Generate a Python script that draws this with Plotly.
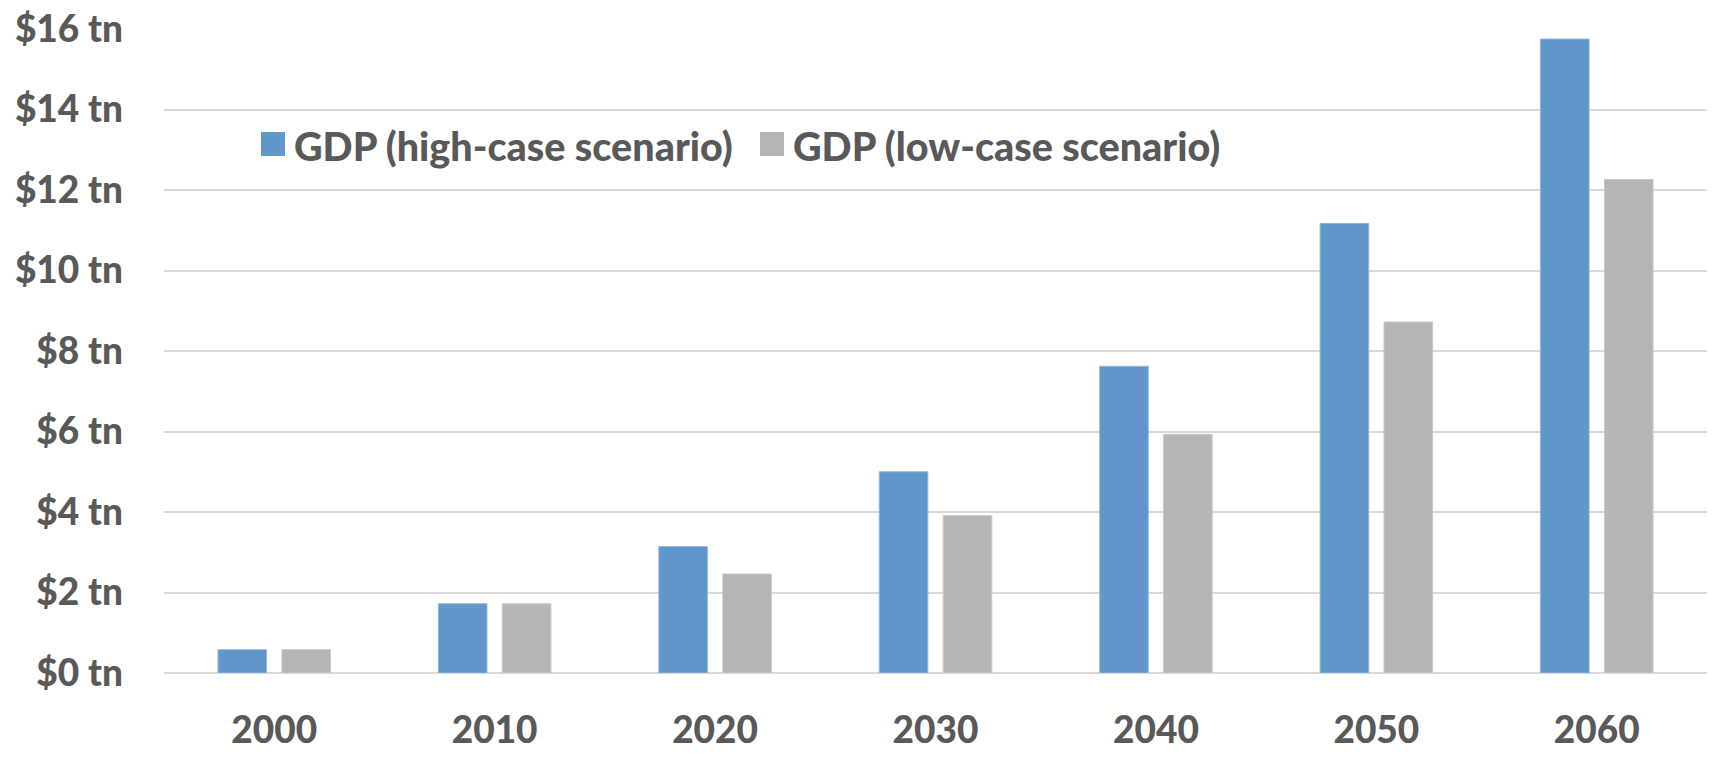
import plotly.graph_objects as go

years = ["2000", "2010", "2020", "2030", "2040", "2050", "2060"]
gdp_high = [0.58, 1.72, 3.14, 5.00, 7.62, 11.17, 15.75]
gdp_low = [0.58, 1.72, 2.46, 3.91, 5.93, 8.72, 12.26]
y_ticks = [0, 2, 4, 6, 8, 10, 12, 14, 16]
y_tick_text = [f"${v} tn" for v in y_ticks]
series_names = ["GDP (high-case scenario)", "GDP (low-case scenario)"]

BLUE = "#6096C9"
GRAY = "#B5B5B5"
TEXT = "#595959"
FONT = "Lato"
WEIGHT = 900

W, H = 1720, 758
ML, MR, MT, MB = 164, 13, 29, 85
PW, PH = W - ML - MR, H - MT - MB


def px_x(px):
    return (px - ML) / PW


def px_y(py):
    return (H - MB - py) / PH


fig = go.Figure()
fig.add_trace(go.Bar(x=years, y=gdp_high, name=series_names[0],
                     marker=dict(color=BLUE, line=dict(color="#8FB8E0", width=1))))
fig.add_trace(go.Bar(x=years, y=gdp_low, name=series_names[1],
                     marker=dict(color=GRAY, line=dict(color="#C8C8C8", width=1))))

# legend drawn as swatches + labels so the squares can be full size
legend_items = [(series_names[0], BLUE, 261), (series_names[1], GRAY, 760)]
shapes, annotations = [], []
for name, col, x0 in legend_items:
    shapes.append(dict(type="rect", xref="paper", yref="paper",
                       x0=px_x(x0), x1=px_x(x0 + 24), y0=px_y(156), y1=px_y(132),
                       fillcolor=col, line=dict(width=0)))
    annotations.append(dict(text=name, xref="paper", yref="paper",
                            x=px_x(x0 + 31), y=px_y(145), xanchor="left", yanchor="middle",
                            showarrow=False,
                            font=dict(family=FONT, size=39.5, color=TEXT, weight=WEIGHT)))

fig.update_layout(
    width=W, height=H,
    margin=dict(l=ML, r=MR, t=MT, b=MB),
    paper_bgcolor="white", plot_bgcolor="white",
    barmode="group", bargap=0.42, bargroupgap=0.24,
    font=dict(family=FONT, color=TEXT, size=36),
    showlegend=False,
    shapes=shapes, annotations=annotations,
)
fig.update_yaxes(range=[0, 16], tickvals=y_ticks, ticktext=y_tick_text, automargin=False,
                 showgrid=True, gridcolor="#D9D9D9", gridwidth=2,
                 zeroline=True, zerolinecolor="#D9D9D9", zerolinewidth=2,
                 showline=False, ticks="", ticklabelstandoff=40,
                 tickfont=dict(family=FONT, size=37, color=TEXT, weight=WEIGHT))
fig.update_xaxes(showgrid=False, showline=False, ticks="", ticklabelstandoff=32, automargin=False,
                 tickfont=dict(family=FONT, size=37, color=TEXT, weight=WEIGHT))

fig.write_html("out.html")
